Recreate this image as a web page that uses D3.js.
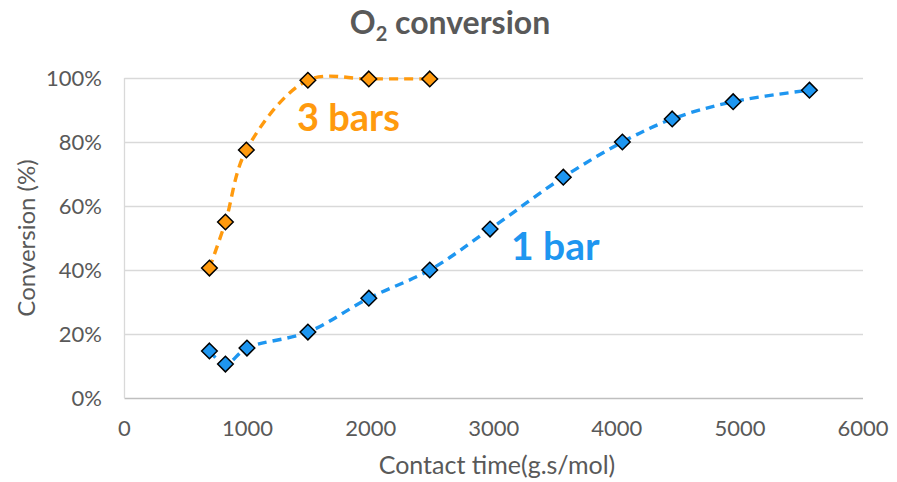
<!DOCTYPE html>
<html><head><meta charset="utf-8">
<script src="https://cdn.jsdelivr.net/npm/d3@7"></script>
<style>body{margin:0;background:#fff}svg{display:block}</style>
</head><body>
<svg id="chart" width="897" height="482"></svg>
<script>
const xTicks = [0, 1000, 2000, 3000, 4000, 5000, 6000];
const yTicks = [0, 0.2, 0.4, 0.6, 0.8, 1.0];
const bar3X = [690, 820, 990, 1490, 1985, 2480];
const bar3Y = [0.406, 0.55, 0.775, 0.993, 0.997, 0.997];
const bar1X = [690, 820, 995, 1490, 1985, 2480, 2970, 3565, 4045, 4450, 4945, 5565];
const bar1Y = [0.147, 0.106, 0.156, 0.206, 0.312, 0.40, 0.528, 0.69, 0.80, 0.872, 0.926, 0.962];
const seriesNames = ["3 bars", "1 bar"];
const colors = ["#FF9A0E", "#1E96F0"];

const svg = d3.select("#chart");
const font = "Lato, 'Open Sans', sans-serif";
const x = d3.scaleLinear().domain([0, 6000]).range([124.5, 863]);
const y = d3.scaleLinear().domain([0, 1]).range([398, 78]);

// gridlines
svg.append("g").selectAll("line").data(yTicks).join("line")
  .attr("x1", x(0)).attr("x2", x(6000))
  .attr("y1", d => Math.round(y(d)) + 0.5).attr("y2", d => Math.round(y(d)) + 0.5)
  .attr("stroke", d => d === 0 ? "#BFBFBF" : "#D9D9D9").attr("stroke-width", 1.3);
// left axis line
svg.append("line").attr("x1", x(0)).attr("x2", x(0)).attr("y1", y(1)).attr("y2", y(0))
  .attr("stroke", "#D9D9D9").attr("stroke-width", 1.3);

// tick labels
svg.append("g").selectAll("text").data(yTicks).join("text")
  .attr("x", 102).attr("y", d => y(d) + 8).attr("text-anchor", "end")
  .attr("font-family", font).attr("font-size", 22).attr("fill", "#595959")
  .text(d => d3.format(".0%")(d));
svg.append("g").selectAll("text").data(xTicks).join("text")
  .attr("x", d => x(d)).attr("y", 436).attr("text-anchor", "middle")
  .attr("font-family", font).attr("font-size", 22).attr("fill", "#595959")
  .text(d => d);

// axis titles
svg.append("text").attr("transform", "translate(35,238) rotate(-90)")
  .attr("text-anchor", "middle").attr("font-family", font).attr("font-size", 24)
  .attr("fill", "#595959").text("Conversion (%)");
svg.append("text").attr("x", 497).attr("y", 474).attr("text-anchor", "middle")
  .attr("font-family", font).attr("font-size", 25).attr("fill", "#595959")
  .text("Contact time(g.s/mol)");

// title
const t = svg.append("text").attr("x", 450).attr("y", 34).attr("text-anchor", "middle")
  .attr("font-family", font).attr("font-size", 32).attr("font-weight", "bold").attr("fill", "#595959");
t.append("tspan").text("O");
t.append("tspan").attr("font-size", 20).attr("dy", 7).text("2");
t.append("tspan").attr("dy", -7).text(" conversion");

// series
const line = d3.line().x(d => x(d[0])).y(d => y(d[1])).curve(d3.curveCatmullRom.alpha(0.5));
const series = [
  bar3X.map((v, i) => [v, bar3Y[i]]),
  bar1X.map((v, i) => [v, bar1Y[i]])
];
const diamond = d3.symbol().type(d3.symbolDiamond2).size(155);
series.forEach((pts, si) => {
  svg.append("path").datum(pts).attr("d", line).attr("fill", "none")
    .attr("stroke", colors[si]).attr("stroke-width", 3.4)
    .attr("stroke-dasharray", "9,6");
  svg.append("g").selectAll("path").data(pts).join("path")
    .attr("d", diamond)
    .attr("transform", d => `translate(${x(d[0])},${y(d[1])})`)
    .attr("fill", colors[si]).attr("stroke", "#000").attr("stroke-width", 1.5);
});

// annotations
svg.append("text").attr("x", 297).attr("y", 131).attr("font-family", font)
  .attr("font-size", 38).attr("font-weight", "bold").attr("fill", colors[0]).text(seriesNames[0]);
svg.append("text").attr("x", 511).attr("y", 260).attr("font-family", font)
  .attr("font-size", 39).attr("font-weight", "bold").attr("fill", colors[1]).text(seriesNames[1]);
</script>
</body></html>
